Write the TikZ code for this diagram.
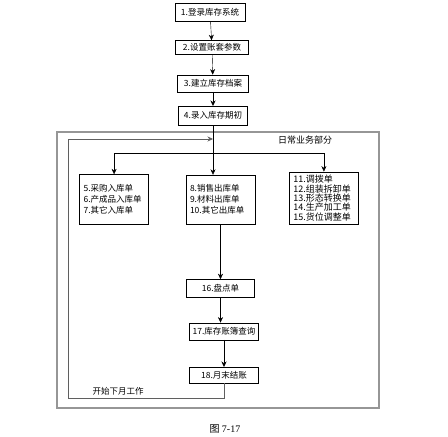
\documentclass[tikz,border=0pt]{standalone}
\usepackage{fontspec}
\setmainfont{Noto Sans CJK SC}
\newfontfamily\capfont{Liberation Serif}
\usepackage{tikz}
\usetikzlibrary{arrows.meta, positioning, calc}
\usepackage{xcolor}
\definecolor{framegray}{RGB}{150,150,150}
\definecolor{loopgray}{RGB}{95,95,95}

\begin{document}
\begin{tikzpicture}[
    x=1pt, y=1pt,
    node distance=19pt,
    stepbox/.style={rectangle, draw, thin, minimum width=70pt, minimum height=17pt, inner sep=2pt, font=\fontsize{8.5}{10}\selectfont},
    listbox/.style={rectangle, draw, thin, text width=61pt, minimum height=50pt, inner xsep=4pt, align=left, font=\fontsize{8.5}{11}\selectfont},
    flow/.style={-{Stealth[length=5.5pt, width=5pt]}, thin},
    loopline/.style={-{Stealth[length=5.5pt, width=5pt]}, semithick, loopgray},
    area/.style={draw=framegray, line width=1.6pt}
]
\useasboundingbox (0,0) rectangle (448,437);

% setup steps
\node[stepbox, minimum height=18pt] (login) at (210,425) {1.登录库存系统};
\node[stepbox, minimum width=73pt, minimum height=14pt, below=19pt of login, xshift=2pt] (param) {2.设置账套参数};
\node[stepbox, minimum width=71pt, below=20pt of param, xshift=1pt] (archive) {3.建立库存档案};
\node[stepbox, minimum width=69pt, minimum height=19pt, below=14pt of archive] (opening) {4.录入库存期初};

% daily business area
\draw[area] (57,29) rectangle (379,305);
\node[font=\fontsize{9}{10}\selectfont] (daily) at (305,297) {日常业务部分};

\node[listbox, minimum height=49pt] (outbound) at (220.5,237.5) {8.销售出库单\\9.材料出库单\\10.其它出库单};
\node[listbox, left=37pt of outbound] (inbound) {5.采购入库单\\6.产成品入库单\\7.其它入库单};
\node[listbox, minimum height=52pt, right=34pt of outbound, yshift=1.5pt, font=\fontsize{9}{8.2}\selectfont] (transfer) {11.调拨单\\12.组装拆卸单\\13.形态转换单\\14.生产加工单\\15.货位调整单};

\node[stepbox, minimum width=68pt, minimum height=18pt, below=55pt of outbound] (count) {16.盘点单};
\node[stepbox, minimum width=69pt, below=25pt of count, xshift=3.5pt] (ledger) {17.库存账簿查询};
\node[stepbox, minimum width=69pt, minimum height=16pt, below=27pt of ledger] (closing) {18.月末结账};

\node[font=\fontsize{8.5}{10}\selectfont] (nextmonth) at (118,46) {开始下月工作};
\node[font=\fontsize{10}{12}\selectfont] (caption) at (225,8) {图 {\capfont 7-17}};

\coordinate (split) at (opening.south |- 0,284);
\coordinate (join) at (opening.south |- 0,298);
\coordinate (loopcorner) at (68,39);

\draw[flow] (login) -- (param);
\draw[flow] (param) -- (archive);
\draw[flow] (archive) -- (opening);
\draw[flow] (opening.south) -- (opening.south |- outbound.north);
\draw[flow] (split) -| (inbound);
\draw[flow] (split) -| (transfer);
\draw[flow] (outbound) -- (count);
\draw[flow] (count.south) -- (count.south |- ledger.north);
\draw[flow] (ledger) -- (closing);
\draw[loopline] (closing.south) |- (loopcorner) |- (join);

\end{tikzpicture}
\end{document}
